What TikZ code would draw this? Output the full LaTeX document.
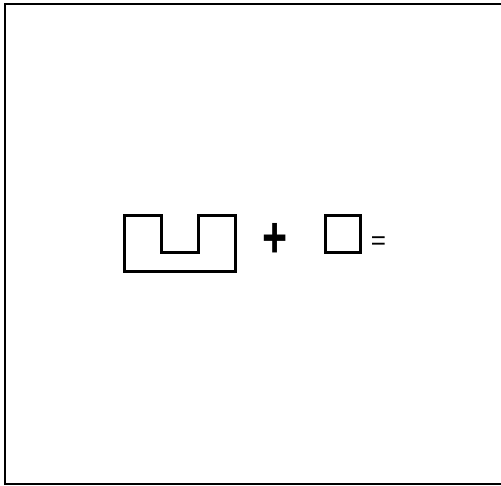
\documentclass[tikz,border=0pt]{standalone}
\usepackage{fontspec}
\usepackage{graphicx}
\setmainfont{Liberation Sans}
\begin{document}
\begin{tikzpicture}[x=1pt,y=1pt,
  shapeline/.style={draw=black, line width=3pt, line join=miter},
  frameline/.style={draw=black, line width=2pt},
  optext/.style={inner sep=0pt, text=black}]
\useasboundingbox (0,0) rectangle (501,485);
\clip (0,0) rectangle (501,485);
\fill[white] (0,0) rectangle (501,485);
% frame (right edge lies past the picture)
\draw[frameline] (5,1) rectangle (504,481);
% U shape
\draw[shapeline] (124.3,269) -- (161.3,269) -- (161.3,232.3) -- (198.7,232.3) -- (198.7,269) -- (235.3,269) -- (235.3,213.7) -- (124.3,213.7) -- cycle;
% plus
\node[optext, font=\bfseries\fontsize{43}{43}\selectfont] (plus) at (275,245) {\scalebox{1}[1.35]{+}};
% square
\node[shapeline, minimum width=35pt, minimum height=37pt, inner sep=0pt] (sq) at (342.5,251) {};
% equals
\node[optext, font=\fontsize{26}{26}\selectfont] (eq) at (378.5,241.5) {=};
\end{tikzpicture}
\end{document}
